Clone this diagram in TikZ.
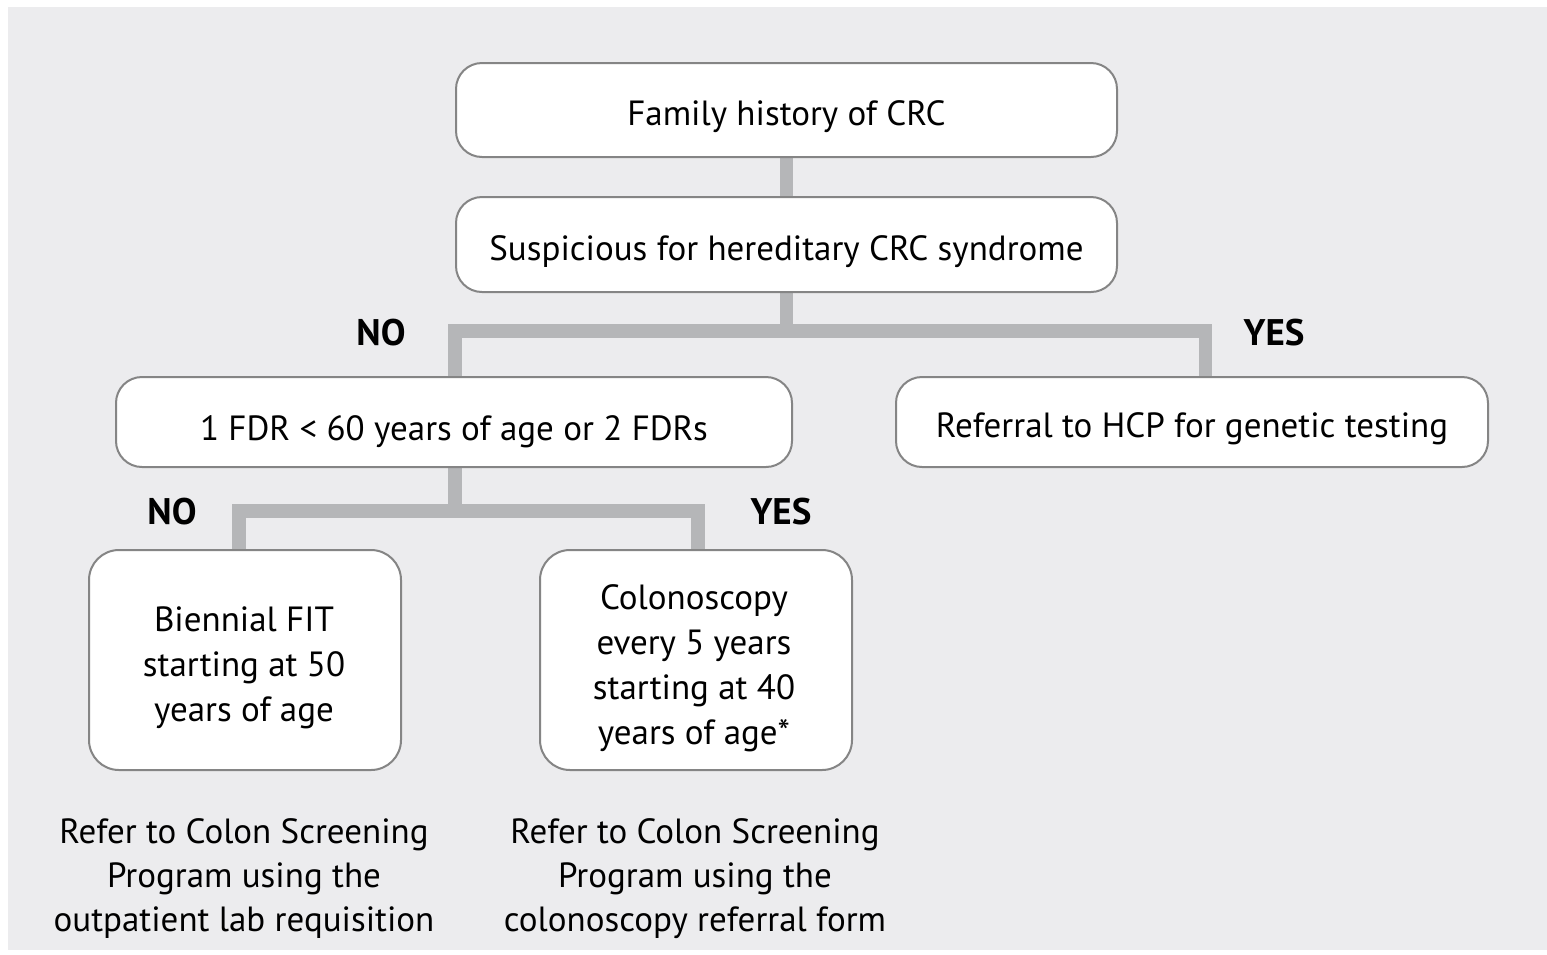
\documentclass[tikz,border=0pt]{standalone}
\usepackage{fontspec}
\setmainfont{PT Sans}
\definecolor{bg}{HTML}{ECECEE}
\definecolor{conncol}{HTML}{B5B6B8}
\definecolor{boxline}{HTML}{858585}
\pgfdeclarelayer{back}
\pgfsetlayers{back,main}
\newcommand{\lowered}[2]{\raisebox{-#1}[0pt][0pt]{#2}}
\tikzset{
  box/.style={draw=boxline, line width=2pt, fill=white, rounded corners=26pt, align=center,
    font=\fontsize{35}{45}\selectfont, inner sep=0pt},
  tallbox/.style={box, rounded corners=30pt, minimum width=312pt, minimum height=220pt},
  boxtext/.style={align=center, font=\fontsize{35}{45}\selectfont, inner sep=0pt},
  conn/.style={draw=conncol, line width=13.5pt},
  lbl/.style={font=\fontsize{37}{40}\selectfont\bfseries},
  note/.style={align=center, font=\fontsize{35}{44}\selectfont}
}
\begin{document}
\begin{tikzpicture}[x=1pt,y=-1pt]
\useasboundingbox (0,0) rectangle (1547,954);
\begin{pgfonlayer}{back}
\fill[white] (0,0) rectangle (1547,954);
\fill[bg] (8,7) rectangle (1547,950);
\end{pgfonlayer}
% boxes
\node[box, minimum width=661pt, minimum height=94pt] (b1) at (786.5,110) {\lowered{15.5pt}{Family history of CRC}};
\node[box, minimum width=661pt, minimum height=95pt] (b2) at (786.5,244.5) {\lowered{16pt}{Suspicious for hereditary CRC syndrome}};
\node[box, minimum width=676pt, minimum height=90pt] (b3) at (454,422) {\lowered{18pt}{1 FDR < 60 years of age or 2 FDRs}};
\node[box, minimum width=592pt, minimum height=90pt] (b4) at (1192,422) {\lowered{15.5pt}{Referral to HCP for genetic testing}};
\node[tallbox] (b5) at (245,660) {};
\node[boxtext] (t5) at (244,668) {Biennial FIT\\starting at 50\\years of age};
\node[tallbox] (b6) at (696,660) {};
\node[boxtext] (t6) at (694,668) {Colonoscopy\\every 5 years\\starting at 40\\years of age*};
% junctions
\coordinate (j1) at (786.5,331);
\coordinate (j2) at (455,511);
\coordinate (b3n) at (455,377);
\coordinate (b4n) at (1205.5,377);
\coordinate (b5n) at (239,550);
\coordinate (b6n) at (698,550);
% connectors
\begin{pgfonlayer}{back}
\draw[conn] (b1.south) -- (b2.north);
\draw[conn] (b2.south) -- (j1);
\draw[conn] (b3n) |- (j1) -| (b4n);
\draw[conn] (b3.south -| j2) -- (j2);
\draw[conn] (b5n) |- (j2) -| (b6n);
\end{pgfonlayer}
% labels
\node[lbl] (n1) at (381,333) {NO};
\node[lbl] (y1) at (1274,333) {YES};
\node[lbl] (n2) at (172,512) {NO};
\node[lbl] (y2) at (781,512) {YES};
% notes
\node[note] (r1) at (244,879) {Refer to Colon Screening\\Program using the\\outpatient lab requisition};
\node[note] (r2) at (695,879) {Refer to Colon Screening\\Program using the\\colonoscopy referral form};
\end{tikzpicture}
\end{document}
